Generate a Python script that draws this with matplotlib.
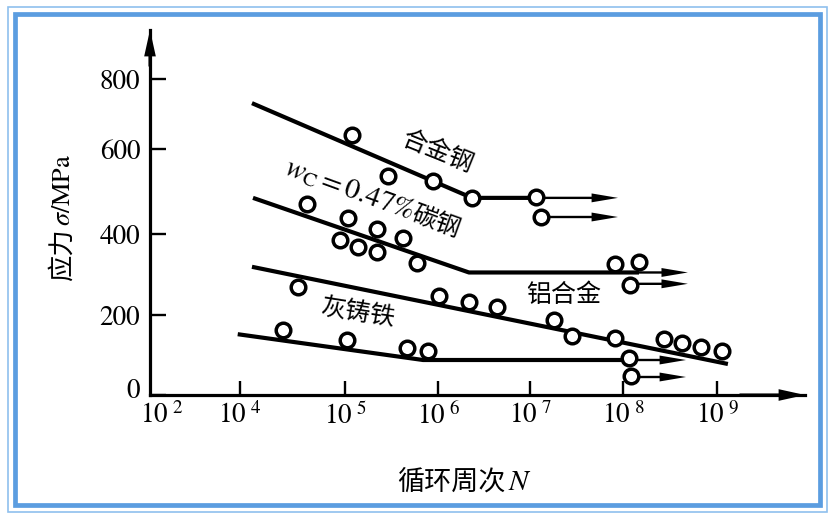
import numpy as np
import matplotlib
matplotlib.use('Agg')
import matplotlib.pyplot as plt
import matplotlib.transforms as mtransforms
from matplotlib.patches import Rectangle

plt.rcParams['mathtext.fontset'] = 'stix'
plt.rcParams['font.family'] = ['STIXGeneral', 'Noto Sans CJK SC', 'DejaVu Sans']
CJK = ['Noto Sans CJK SC', 'DejaVu Sans']

# ---- data: N in cycles, stress in MPa ----
# alloy steel
alloy_line_n = [1.30e4, 2.34e6, 1.16e7]
alloy_line_s = [731, 485, 485]
alloy_pts_n = [1.19e5, 2.90e5, 8.83e5, 2.34e6, 1.16e7, 1.31e7]
alloy_pts_s = [640, 536, 525, 485, 487, 440]
alloy_run_n = [1.16e7, 1.31e7]
alloy_run_s = [485, 440]
alloy_tip = 8.83e7

# carbon steel wC = 0.47%
carbon_line_n = [1.33e4, 2.17e6, 1.48e8]
carbon_line_s = [485, 305, 305]
carbon_pts_n = [4.35e4, 1.08e5, 8.95e4, 1.38e5, 2.21e5, 2.21e5, 4.21e5, 5.94e5,
                8.20e7, 1.48e8, 1.19e8]
carbon_pts_s = [471, 438, 385, 368, 412, 356, 390, 328, 326, 331, 274]
carbon_run_n = [1.48e8, 1.19e8]
carbon_run_s = [305, 277]
carbon_tip = 4.90e8

# aluminium alloy
alu_line_n = [1.30e4, 1.31e9]
alu_line_s = [319, 77.5]
alu_pts_n = [3.56e4, 1.03e6, 2.17e6, 4.38e6, 1.81e7, 2.83e7, 8.20e7, 2.73e8,
             4.25e8, 6.76e8, 1.13e9]
alu_pts_s = [269, 247, 232, 220, 188, 148, 143, 140, 130, 120, 110]

# grey cast iron
iron_line_n = [8.9e3, 6.90e5, 1.16e8]
iron_line_s = [152, 87.5, 87.5]
iron_pts_n = [2.57e4, 1.05e5, 4.65e5, 7.80e5, 1.16e8, 1.22e8]
iron_pts_s = [162, 138, 118, 110, 92, 48]
iron_run_n = [1.16e8, 1.22e8]
iron_run_s = [87.5, 45]
iron_tip = 4.68e8

x_ticks = [1e2, 1e4, 1e5, 1e6, 1e7, 1e8, 1e9]
x_ticklabels = [r'$10^{\ %d}$' % k for k in (2, 4, 5, 6, 7, 8, 9)]
y_ticks = [0, 200, 400, 600, 800]

# hand drawn axis: broken between 10^2 and 10^4, uneven spacing
x_lg_ref = [2, 4, 5, 6, 7, 8, 9, 10]
x_pos_ref = [0, 90, 195, 288, 380, 473, 567, 660]
y_val_ref = [0, 200, 400, 600, 800, 1000]
y_pos_ref = [0, 80, 161, 246, 316, 386]


def fwd_x(n):
    return np.interp(np.log10(np.maximum(n, 1e-12)), x_lg_ref, x_pos_ref)


def inv_x(p):
    return 10 ** np.interp(p, x_pos_ref, x_lg_ref)


def fwd_y(v):
    return np.interp(v, y_val_ref, y_pos_ref)


def inv_y(p):
    return np.interp(p, y_pos_ref, y_val_ref)


W, H = 836, 519
fig = plt.figure(figsize=(W / 100, H / 100), dpi=100)
fig.patch.set_facecolor('white')

# double blue frame
fig.add_artist(Rectangle((8 / W, 1 - 512 / H), 819 / W, 505.5 / H,
                         transform=fig.transFigure, fill=False,
                         ec='#8fc0ee', lw=1.2))
fig.add_artist(Rectangle((14.5 / W, 1 - 505 / H), 805.5 / W, 490.5 / H,
                         transform=fig.transFigure, fill=False,
                         ec='#5b9de0', lw=3.4))

ax = fig.add_axes([150 / W, 124 / H, 655 / W, 365 / H])
ax.set_xscale('function', functions=(fwd_x, inv_x))
ax.set_yscale('function', functions=(fwd_y, inv_y))
ax.set_xlim(1e2, inv_x(655))
ax.set_ylim(0, inv_y(365))

for side in ('top', 'right'):
    ax.spines[side].set_visible(False)
for side in ('left', 'bottom'):
    ax.spines[side].set_linewidth(2.3)

# filled arrow heads (no stroke, so the tip lands exactly on the end point)
arrow_axis = dict(arrowstyle='simple,head_length=0.95,head_width=0.42,tail_width=0.11',
                  fc='k', ec='none', lw=0, shrinkA=0, shrinkB=0, mutation_scale=20)
ax.annotate('', xy=(0, 1), xytext=(0, 0.9), xycoords='axes fraction',
            arrowprops=arrow_axis, annotation_clip=False)
ax.annotate('', xy=(1, 0), xytext=(0.9, 0), xycoords='axes fraction',
            arrowprops=arrow_axis, annotation_clip=False)

ax.set_xticks(x_ticks)
ax.set_xticklabels(x_ticklabels, fontsize=19.5)
ax.xaxis.set_minor_locator(matplotlib.ticker.NullLocator())
ax.set_yticks(y_ticks)
ax.set_yticklabels([str(v) for v in y_ticks], fontsize=19.5)
ax.yaxis.set_minor_locator(matplotlib.ticker.NullLocator())
ax.tick_params(axis='x', direction='in', length=10, width=1.7, pad=5)
ax.tick_params(axis='y', direction='in', length=11.5, width=1.7, pad=7)

# first x tick only a label at the origin, nudge it; lift the "0"
ax.xaxis.get_major_ticks()[0].tick1line.set_visible(False)
lab = ax.get_xticklabels()[0]
lab.set_transform(lab.get_transform() +
                  mtransforms.ScaledTranslation(12 / 100, 0, fig.dpi_scale_trans))
lab = ax.get_yticklabels()[0]
lab.set_transform(lab.get_transform() +
                  mtransforms.ScaledTranslation(0, 7 / 100, fig.dpi_scale_trans))

line_kw = dict(color='k', lw=3.0, solid_capstyle='butt', solid_joinstyle='round', zorder=2)
pt_kw = dict(ls='none', marker='o', ms=10.5, mfc='white', mec='k', mew=2.5, zorder=4)
run_kw = dict(arrowstyle='simple,head_length=0.95,head_width=0.32,tail_width=0.085',
              fc='k', ec='none', lw=0, shrinkA=0, shrinkB=0, mutation_scale=20)

for ln, ls_, pn, ps in [(alloy_line_n, alloy_line_s, alloy_pts_n, alloy_pts_s),
                        (carbon_line_n, carbon_line_s, carbon_pts_n, carbon_pts_s),
                        (alu_line_n, alu_line_s, alu_pts_n, alu_pts_s),
                        (iron_line_n, iron_line_s, iron_pts_n, iron_pts_s)]:
    ax.plot(ln, ls_, **line_kw)
    ax.plot(pn, ps, **pt_kw)

for rn, rs, tip in [(alloy_run_n, alloy_run_s, alloy_tip),
                    (carbon_run_n, carbon_run_s, carbon_tip),
                    (iron_run_n, iron_run_s, iron_tip)]:
    for n, s in zip(rn, rs):
        ax.annotate('', xy=(tip, s), xytext=(n, s), arrowprops=run_kw, zorder=3)

# curve labels
ax.text(9.75e5, 593, '合金钢', family=CJK, fontsize=18, rotation=-22,
        rotation_mode='anchor', ha='center', va='center')
ax.text(5.0e5, 433, r'$w_{\mathrm{C}}=\mathit{0.47}\%$', fontsize=21,
        rotation=-20, rotation_mode='anchor', ha='right', va='baseline')
ax.text(5.0e5, 433, '碳钢', family=CJK, fontsize=18, rotation=-20,
        rotation_mode='anchor', ha='left', va='baseline')
ax.text(2.32e7, 249, '铝合金', family=CJK, fontsize=18,
        ha='center', va='center')
ax.text(1.38e5, 205, '灰铸铁', family=CJK, fontsize=18, rotation=-9,
        rotation_mode='anchor', ha='center', va='center')

# axis titles
fig.text(506 / W, 1 - 490 / H, '循环周次', family=CJK, fontsize=19.5,
         ha='right', va='baseline')
fig.text(508 / W, 1 - 490 / H, r'$N$', fontsize=21, ha='left', va='baseline')
fig.text(70 / W, 1 - 228 / H, '应力', family=CJK, fontsize=19, rotation=90,
         rotation_mode='anchor', ha='right', va='baseline')
fig.text(70 / W, 1 - 226 / H, r'$\sigma$/MPa', fontsize=19, rotation=90,
         rotation_mode='anchor', ha='left', va='baseline')

fig.savefig('out.png', dpi=100, facecolor='white')
